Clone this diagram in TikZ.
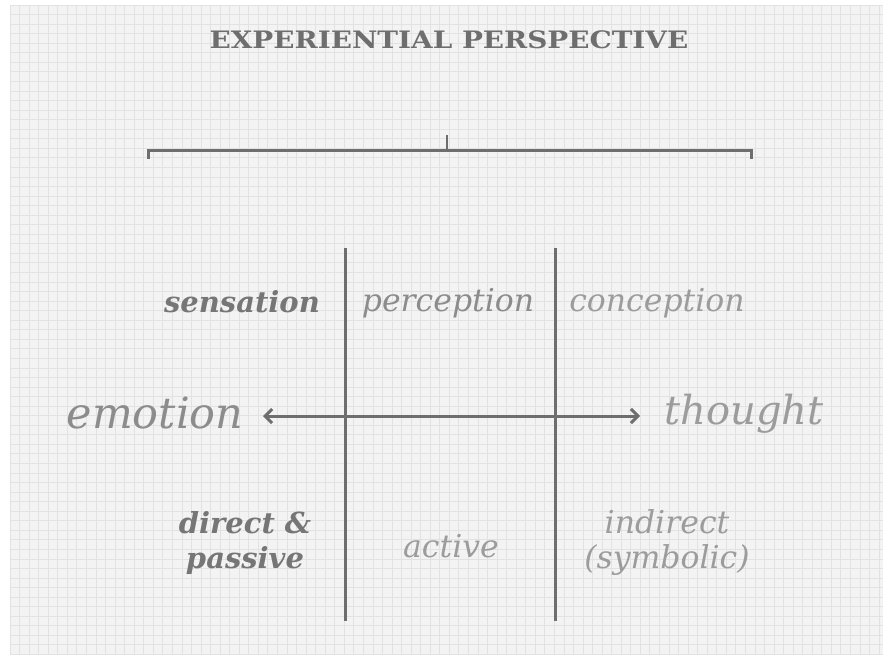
\documentclass[tikz,border=0pt]{standalone}
\usepackage{fontspec}
\setmainfont{DejaVu Serif}
\usetikzlibrary{arrows.meta}
\definecolor{paper}{HTML}{F3F3F3}
\definecolor{gridc}{HTML}{E2E2E2}
\definecolor{ink}{HTML}{6E6E6E}
\definecolor{inkd}{HTML}{767676}
\definecolor{inkm}{HTML}{8C8C8C}
\definecolor{inkl}{HTML}{9C9C9C}
\tikzset{
  lbl/.style={font=\fontsize{31.5}{35}\selectfont\itshape, inner sep=0pt, align=center},
  lblb/.style={font=\fontsize{29}{35}\selectfont\bfseries\itshape, inner sep=0pt, align=center},
  rule/.style={draw=ink, line width=3pt},
  tip/.style={{Straight Barb[length=7pt,width=14pt,line width=3pt]}-{Straight Barb[length=7pt,width=14pt,line width=3pt]}},
}
\begin{document}
\begin{tikzpicture}[x=1pt,y=-1pt]
\useasboundingbox (0,0) rectangle (883,654);
\fill[white] (0,0) rectangle (883,654);
\fill[paper] (10,5) rectangle (883,654);
\foreach \i in {0,...,91} {
  \draw[gridc, line width=0.8pt] ({10+\i*9.55},5) -- ({10+\i*9.55},654);
}
\foreach \j in {0,...,68} {
  \draw[gridc, line width=0.8pt] (10,{5+\j*9.55}) -- (883,{5+\j*9.55});
}
% title
\node[inner sep=0pt, text=ink] (title) at (449,40)
  {\scalebox{1.16}[1]{\fontsize{24}{26}\selectfont\bfseries EXPERIENTIAL PERSPECTIVE}};
% bracket
\coordinate (bl) at (148,159);
\coordinate (bla) at (148,150);
\coordinate (bra) at (751,150);
\coordinate (br) at (751,159);
\coordinate (bt) at (447,135);
\coordinate (bm) at (447,150);
\draw[rule] (bl) -- (bla) -- (bra) -- (br);
\draw[rule, line width=1.8pt] (bt) -- (bm);
% vertical lines
\coordinate (v1t) at (345,248);
\coordinate (v1b) at (345,621);
\coordinate (v2t) at (555,248);
\coordinate (v2b) at (555,621);
\draw[rule] (v1t) -- (v1b);
\draw[rule] (v2t) -- (v2b);
% labels
\node[lblb, text=inkd] (sens) at (242,302) {sensation};
\node[lbl, text=inkm] (perc) at (448,303) {perception};
\node[lbl, text=inkl] (conc) at (657,303) {conception};
\node[inner sep=0pt, text=inkm, font=\fontsize{43}{48}\selectfont\itshape] (emo) at (155,413) {emotion};
\node[inner sep=0pt, text=inkl, font=\fontsize{40}{46}\selectfont\itshape] (tho) at (744,414) {thought};
\coordinate (al) at (263,416);
\coordinate (ar) at (640,416);
\draw[rule, tip] (al) -- (ar);
\node[lblb, text=inkd] (dp) at (245,543) {direct \&\\passive};
\node[lbl, text=inkl] (act) at (451,546) {active};
\node[lbl, text=inkl] (ind) at (667,543) {indirect\\(symbolic)};
\end{tikzpicture}
\end{document}
